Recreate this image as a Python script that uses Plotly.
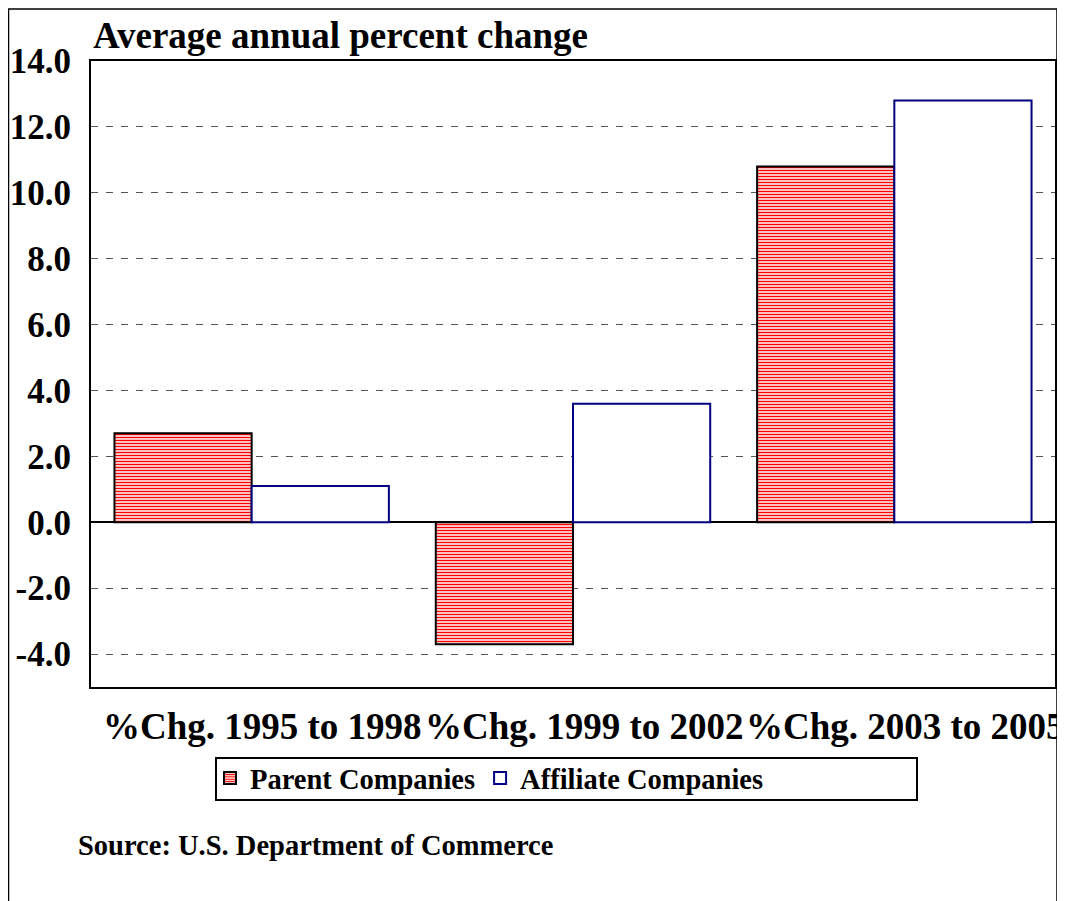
import plotly.graph_objects as go

categories = ["%Chg. 1995 to 1998", "%Chg. 1999 to 2002", "%Chg. 2003 to 2005"]
parent = [2.7, -3.7, 10.8]
affiliate = [1.1, 3.6, 12.8]
y_ticks = [-4, -2, 0, 2, 4, 6, 8, 10, 12, 14]
y_tick_labels = ["-4.0", "-2.0", "0.0", "2.0", "4.0", "6.0", "8.0", "10.0", "12.0", "14.0"]

FONT = "Liberation Serif, Times New Roman, serif"
OFF = 8  # default page body margin
W, H = 1065 - OFF, 901 - OFF
L, R, T, B = 91 - OFF, 10, 61 - OFF, 214
pw, ph = W - L - R, H - T - B

def px_x(x):
    return (x - OFF - L) / pw

def px_y(y):
    return (H - B - (y - OFF)) / ph

fig = go.Figure()
fig.add_trace(go.Bar(
    name="Parent Companies", x=categories, y=parent,
    marker=dict(color="white", line=dict(color="black", width=2),
                pattern=dict(shape="-", fgcolor="#ff0000", fgopacity=1, bgcolor="white",
                             size=3, solidity=0.5)),
))
fig.add_trace(go.Bar(
    name="Affiliate Companies", x=categories, y=affiliate,
    marker=dict(color="white", line=dict(color="#000080", width=2)),
))

annotations = [
    dict(text="Average annual percent change", xref="paper", yref="paper",
         x=0, y=px_y(35), xanchor="left", yanchor="middle", showarrow=False,
         font=dict(family=FONT, size=37, weight="bold")),
    dict(text="Source: U.S. Department of Commerce", xref="paper", yref="paper",
         x=px_x(76), y=px_y(845), xanchor="left", yanchor="middle", showarrow=False,
         font=dict(family=FONT, size=28.5, weight="bold")),
]
for c in categories:
    annotations.append(dict(text=c, xref="x", yref="paper", x=c, y=px_y(726),
                            xanchor="center", yanchor="middle", xshift=11, showarrow=False,
                            font=dict(family=FONT, size=37, weight="bold")))

fig.update_layout(
    width=W, height=H,
    margin=dict(l=L, r=R, t=T, b=B, autoexpand=False),
    paper_bgcolor="white", plot_bgcolor="white",
    barmode="group", bargap=0.146, bargroupgap=0,
    font=dict(family=FONT, color="black"),
    showlegend=True,
    legend=dict(orientation="h", x=px_x(210), y=px_y(753), xanchor="left", yanchor="top",
                bgcolor="rgba(0,0,0,0)", borderwidth=0,
                font=dict(family=FONT, size=28.5, weight="bold"),
                itemwidth=30, tracegroupgap=0),
    xaxis=dict(showline=True, linecolor="black", linewidth=2, mirror=True, automargin=False,
               showticklabels=False, ticks="", range=[-0.5, 2.5]),
    yaxis=dict(range=[-5, 14], tickvals=y_ticks, ticktext=y_tick_labels, automargin=False,
               showline=True, linecolor="black", linewidth=2, mirror=True,
               showgrid=True, gridcolor="#555555", griddash="7px,8px", gridwidth=1,
               zeroline=True, zerolinecolor="black", zerolinewidth=2,
               tickfont=dict(family=FONT, size=35, weight="bold"),
               ticks="", ticklabelstandoff=11),
    shapes=[
        dict(type="rect", xref="paper", yref="paper",
             x0=px_x(8.5), x1=px_x(1057), y0=px_y(905), y1=px_y(9),
             line=dict(color="black", width=1.5), fillcolor="rgba(0,0,0,0)", layer="below"),
        dict(type="rect", xref="paper", yref="paper",
             x0=px_x(216), x1=px_x(917), y0=px_y(800), y1=px_y(758),
             line=dict(color="black", width=2), fillcolor="rgba(0,0,0,0)"),
    ],
    annotations=annotations,
)

fig.write_html("out.html")
